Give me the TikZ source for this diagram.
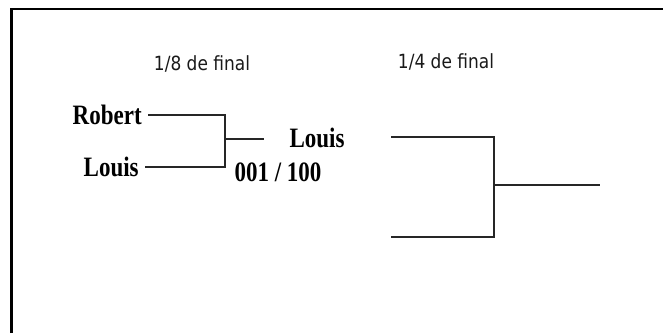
\documentclass[tikz,border=0pt]{standalone}
\usepackage{fontspec}
\usepackage{graphicx}
\setmainfont{Liberation Serif}
\newfontfamily\headfont{DejaVu Sans}
\newcommand{\tallname}[1]{\scalebox{1}[1.22]{#1}}
\newcommand{\talltitle}[1]{\scalebox{1}[1.15]{#1}}
\tikzset{
  player/.style={font=\bfseries\fontsize{23}{24}\selectfont,outer sep=3pt},
  roundtitle/.style={font=\headfont\fontsize{17}{18}\selectfont,text=black!90},
  bracket/.style={line width=1.4pt,black!85}
}
\begin{document}
\begin{tikzpicture}[x=1pt,y=-1pt]
\useasboundingbox (0,0) rectangle (663,333);
\draw[line width=2.5pt] (11.5,333) |- (663,9);
\node(t8) at (202,64)[roundtitle]              {\talltitle{1/8 de final}};
\node(t4) at (446,62)[roundtitle]              {\talltitle{1/4 de final}};
\node(robert) at (148,115)[player,anchor=east] {\tallname{Robert}};
\node(louis) at (145,167)[player,anchor=east]  {\tallname{Louis}};
\node(winner) at (317,138)[player]             {\tallname{Louis}};
\node(score) at (278,172)[player]              {\tallname{001 / 100}};
\coordinate(m8) at (225,139);
\coordinate(o8) at (264,139);
\coordinate(a4) at (391,137);
\coordinate(b4) at (391,237);
\coordinate(m4) at (494,185);
\coordinate(o4) at (600,185);
\draw[bracket] (robert.east) -| (m8);
\draw[bracket] (louis.east) -| (m8);
\draw[bracket] (m8) -- (o8);

\draw[bracket] (a4) -| (m4);
\draw[bracket] (b4) -| (m4);
\draw[bracket] (m4) -- (o4);
\end{tikzpicture}
\end{document}
